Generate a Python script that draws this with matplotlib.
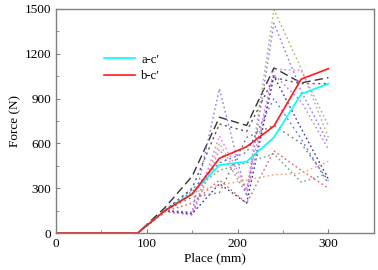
import matplotlib
matplotlib.use("Agg")
import matplotlib.pyplot as plt

plt.rcParams['font.family'] = ['Liberation Serif', 'DejaVu Serif']

place = [0, 90, 120, 150, 180, 210, 240, 270, 300]

# main series
ac = [0, 0, 150, 265, 455, 478, 640, 930, 1000]
bc = [0, 0, 150, 260, 500, 578, 716, 1030, 1100]

# background reference series
ref_black_dash = [0, 0, 170, 380, 775, 720, 1105, 1005, 1040]
ref_gray_dot = [0, 0, 150, 300, 730, 680, 1040, 1000, 1000]
ref_olive = [0, 0, 150, 130, 600, 280, 1495, 1100, 640]
ref_purple = [0, 0, 150, 140, 965, 245, 1405, 950, 600]
ref_magenta = [0, 0, 140, 125, 650, 300, 1095, 1090, 720]
ref_violet = [0, 0, 145, 120, 560, 260, 1060, 880, 560]
ref_navy = [0, 0, 150, 130, 330, 200, 1050, 700, 360]
ref_blue = [0, 0, 155, 290, 470, 540, 900, 630, 330]
ref_teal = [0, 0, 150, 280, 420, 470, 530, 340, 400]
ref_red_dot = [0, 0, 145, 200, 355, 200, 550, 420, 300]
ref_orange = [0, 0, 140, 270, 320, 355, 390, 400, 480]
ref_darkgray = [0, 0, 150, 240, 270, 640, 720, 600, 350]

refs = [
    (ref_black_dash, '#333333', (0, (6, 3))),
    (ref_gray_dot, '#555555', (0, (1.5, 2.5))),
    (ref_olive, '#b0b070', (0, (1.2, 2))),
    (ref_purple, '#9a70f0', (0, (1.2, 2))),
    (ref_magenta, '#f070f0', (0, (1.2, 2))),
    (ref_violet, '#b080e0', (0, (1.2, 2))),
    (ref_navy, '#4030a0', (0, (1.2, 2))),
    (ref_blue, '#5070e0', (0, (1.2, 2.5))),
    (ref_teal, '#60a8a0', (0, (1.2, 2))),
    (ref_red_dot, '#e06060', (0, (1.2, 2))),
    (ref_orange, '#ffa060', (0, (1.2, 2))),
    (ref_darkgray, '#707070', (0, (1.2, 2.5))),
]

fig = plt.figure(figsize=(3.78, 2.70), dpi=100)
ax = fig.add_axes([0.148, 0.137, 0.841, 0.830])

for vals, col, ls in refs:
    ax.plot(place, vals, color=col, linestyle=ls, linewidth=1.0)

ax.plot(place, ac, color='#00ffff', linewidth=1.2, label="a-c\u2032")
ax.plot(place, bc, color='#ff1a1a', linewidth=1.2, label="b-c\u2032")

ax.set_xlim(0, 350)
ax.set_ylim(0, 1500)
ax.set_xticks([0, 100, 200, 300])
ax.set_xticks([50, 150, 250, 350], minor=True)
ax.set_yticks([0, 300, 600, 900, 1200, 1500])
ax.set_yticks([150, 450, 750, 1050, 1350], minor=True)
ax.tick_params(which='both', direction='in', labelsize=9.5, color='#808080')
ax.tick_params(which='major', length=3, width=0.8)
ax.tick_params(which='minor', length=2, width=0.6)
for s in ax.spines.values():
    s.set_color('#808080')
    s.set_linewidth(1.0)

ax.set_xlabel('Place (mm)', fontsize=9.5, labelpad=2)
ax.set_ylabel('Force (N)', fontsize=9.5, labelpad=2)

ax.legend(frameon=False, loc='upper left', bbox_to_anchor=(0.115, 0.85),
          fontsize=9, handlelength=2.5, handletextpad=0.5, labelspacing=0.35)

fig.savefig('out.png', dpi=100)
